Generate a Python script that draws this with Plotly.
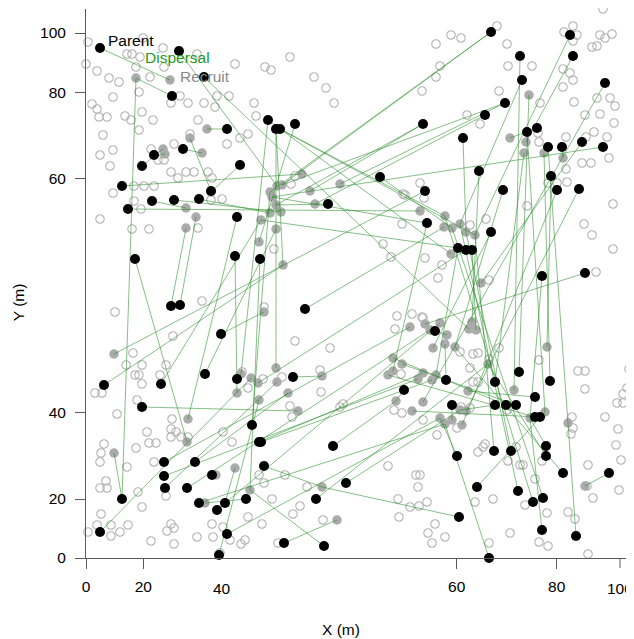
import plotly.graph_objects as go

# ---------------- data ----------------
# Parent trees (black)
parent_x = [2.8, 18.6, 23.6, 17.2, 36.4, 38.0, 38.8, 41.8, 28.2, 19.4,
            13.6, 11.2, 30.8, 7.2, 25.0, 13.2, 17.6, 22.6, 8.4, 30.2,
            81.0, 96.8, 86.8, 97.4, 87.2, 103.8, 83.8, 79.8, 67.4, 75.4,
            88.2, 90.2, 92.4, 95.2, 99.2, 103.4, 58.8, 78.6, 93.0, 67.8,
            83.4, 94.2, 98.6, 48.4, 9.8, 29.8, 34.8, 17.0, 18.8, 43.8,
            27.0, 23.8, 30.2, 41.4, 3.6, 15.0, 11.2, 68.2, 81.0, 74.4,
            76.0, 77.2, 91.2, 99.8, 69.8, 72.0, 63.6, 86.6, 81.8, 92.8,
            89.8, 73.2, 81.8, 84.0, 86.0, 89.8, 90.8, 33.2, 34.6, 35.0,
            35.6, 15.6, 15.6, 15.8, 21.8, 20.2, 25.2, 32.0, 22.6, 27.8,
            26.2, 7.2, 2.8, 28.2, 26.6, 39.6, 46.0, 49.4, 52.0, 47.6,
            74.2, 81.6, 85.0, 92.0, 92.0, 95.4, 78.2, 86.4, 89.4, 91.4,
            74.6, 91.2, 98.0, 104.6, 80.6]
parent_y = [102.0, 101.4, 96.2, 92.4, 87.6, 85.8, 85.8, 86.8, 85.8, 81.8,
            80.6, 78.4, 78.6, 74.4, 73.4, 71.4, 71.6, 71.8, 69.8, 68.2,
            105.2, 104.6, 100.4, 100.4, 95.6, 95.0, 91.0, 88.6, 86.8, 84.0,
            85.2, 86.0, 82.2, 82.2, 83.2, 82.2, 76.2, 77.4, 76.4, 73.4,
            73.6, 73.6, 73.8, 70.8, 59.8, 60.4, 59.8, 50.4, 50.6, 49.8,
            44.8, 36.8, 35.8, 36.2, 34.6, 34.8, 30.2, 67.0, 65.2, 62.0,
            61.6, 61.6, 56.4, 57.0, 45.4, 35.6, 33.6, 37.2, 35.2, 35.4,
            32.2, 30.6, 30.6, 30.6, 30.6, 28.2, 28.2, 26.6, 23.2, 23.2,
            18.4, 19.2, 16.4, 14.0, 19.2, 14.0, 16.6, 11.8, 11.0, 11.0,
            9.6, 11.8, 5.2, 4.8, 0.6, 3.0, 11.8, 22.4, 15.0, 2.4,
            20.4, 21.4, 21.4, 22.4, 20.4, 17.0, 14.2, 13.4, 11.2, 12.0,
            8.2, 5.6, 4.4, 17.0, 0.0]

# Recruits (grey filled)
recruit_x = [16.8, 10.0, 24.2, 20.8, 15.4, 15.8, 23.2, 20.0, 22.0, 20.0,
             88.6, 84.8, 88.0, 87.6, 91.6, 95.4, 50.8, 44.8, 45.8, 43.2,
             66.8, 71.8, 71.6, 73.2, 74.8, 76.0, 77.8, 73.0, 79.0, 36.8,
             37.2, 38.2, 39.2, 38.0, 35.0, 36.8, 38.0, 34.6, 39.4, 35.6,
             5.6, 38.0, 31.0, 33.0, 34.4, 38.2, 30.2, 40.4, 34.6, 42.4,
             20.4, 20.2, 5.6, 29.8, 32.8, 23.8, 26.0, 50.2, 47.2, 47.2,
             61.4, 63.2, 61.4, 60.4, 62.0, 65.2, 64.8, 67.8, 70.8, 77.2,
             72.2, 69.4, 73.8, 80.4, 67.4, 70.0, 85.6, 67.4, 70.8, 73.2,
             74.8, 76.0, 92.2, 91.8, 96.4, 88.8, 99.8, 78.0, 76.6, 71.8,
             68.8, 39.0, 71.8, 75.2, 66.4, 69.2, 76.4, 25.0]
recruit_y = [95.6, 96.0, 85.8, 84.0, 81.8, 80.8, 81.0, 70.0, 68.2, 66.0,
             92.6, 84.0, 83.2, 81.0, 81.0, 80.0, 74.8, 73.4, 70.8, 76.8,
             69.4, 68.4, 66.2, 66.0, 66.8, 65.2, 64.6, 60.8, 55.0, 73.2,
             72.2, 74.4, 74.6, 70.6, 67.6, 69.0, 65.8, 63.2, 58.6, 49.2,
             40.8, 38.0, 36.8, 36.0, 35.0, 35.2, 33.0, 33.0, 31.6, 29.4,
             27.8, 23.2, 21.0, 18.0, 13.6, 11.0, 16.6, 7.6, 14.2, 36.4,
             40.0, 38.8, 37.4, 36.6, 31.4, 29.4, 46.2, 46.8, 47.0, 47.2,
             44.6, 42.0, 42.2, 38.8, 37.0, 36.6, 33.6, 31.2, 28.0, 27.6,
             29.6, 29.4, 42.2, 29.2, 27.0, 28.0, 14.4, 45.6, 45.8, 42.8,
             45.6, 69.2, 26.8, 26.6, 35.8, 35.6, 33.4, 73.2]

# Dispersal links: (parent number, recruit number), 1-based
dispersal_links = [
    (1, 1), (2, 32), (3, 89), (4, 2), (5, 28), (6, 42), (7, 22), (8, 38), (9, 3), (10, 7),
    (11, 6), (12, 5), (13, 98), (14, 20), (15, 4), (16, 8), (17, 92), (18, 36), (19, 21), (20, 51),
    (21, 33), (22, 27), (23, 77), (24, 13), (25, 25), (26, 78), (27, 17), (28, 19), (29, 18), (30, 26),
    (31, 84), (32, 12), (33, 85), (34, 16), (35, 29), (36, 31), (37, 24), (38, 70), (39, 83), (40, 41),
    (41, 73), (42, 94), (43, 82), (44, 34), (45, 52), (46, 47), (47, 55), (48, 10), (49, 9), (50, 23),
    (51, 40), (52, 37), (53, 43), (54, 60), (55, 39), (56, 35), (57, 50), (58, 63), (59, 72), (60, 76),
    (61, 45), (62, 88), (63, 86), (64, 68), (65, 71), (66, 90), (67, 65), (68, 11), (69, 14), (70, 15),
    (71, 97), (72, 80), (73, 81), (74, 61), (75, 62), (76, 64), (77, 66), (78, 30), (79, 75), (80, 96),
    (81, 59), (82, 67), (83, 95), (84, 46), (85, 48), (86, 91), (87, 57), (88, 56), (89, 93), (90, 54),
    (91, 69), (92, 53), (93, 44), (94, 79), (95, 49), (96, 58), (97, 74), (98, 65), (99, 81), (100, 55),
    (101, 79), (102, 27), (103, 26), (104, 86), (105, 74), (106, 73), (107, 84), (108, 25), (109, 22), (110, 24),
    (111, 59), (112, 86), (113, 85), (114, 87), (115, 93),
    (92, 2), (21, 30), (27, 33), (29, 34), (60, 35), (58, 31), (6, 39), (7, 27), (5, 43),
]

# Other trees (open grey circles)
other_trees = [
    (0.4, 103.2), (0.0, 98.8), (2.2, 97.4), (4.6, 96.0), (6.6, 95.2), (5.4, 92.2), (1.2, 90.8),
    (2.2, 89.8), (2.6, 88.2), (4.2, 88.2), (3.4, 84.6), (5.4, 81.6), (2.8, 80.6), (4.8, 78.4),
    (5.4, 73.0), (2.8, 67.8), (11.4, 104.0), (15.4, 102.0), (8.2, 100.8), (9.2, 100.8), (10.8, 100.2),
    (10.0, 98.2), (12.8, 96.2), (15.6, 98.2), (10.6, 93.2), (17.0, 91.0), (18.8, 92.4), (20.4, 91.0),
    (23.6, 91.0), (25.8, 90.2), (26.2, 92.4), (28.6, 92.4), (29.8, 98.8), (22.2, 100.8), (11.2, 89.2),
    (7.8, 88.4), (9.0, 87.6), (13.4, 87.6), (10.6, 85.6), (22.4, 87.6), (20.8, 84.8), (17.6, 82.8),
    (13.0, 81.8), (14.4, 79.6), (15.6, 79.6), (17.0, 77.2), (20.0, 77.2), (21.6, 77.2), (18.4, 76.0),
    (24.4, 77.2), (25.2, 76.0), (28.2, 82.8), (30.8, 84.0), (32.4, 84.8), (33.6, 91.0), (34.0, 88.4),
    (35.8, 98.2), (37.0, 97.6), (40.8, 100.2), (45.6, 96.2), (9.6, 74.4), (11.6, 74.4), (13.6, 74.4),
    (9.6, 71.4), (11.0, 69.8), (27.2, 71.8), (25.0, 71.6),
    (82.2, 106.4), (70.0, 102.8), (73.0, 104.6), (75.0, 104.0), (84.2, 102.8), (48.0, 94.0),
    (49.6, 91.0), (67.2, 93.4), (70.8, 98.4), (70.0, 96.2), (84.4, 98.4), (89.2, 98.4), (82.6, 93.4),
    (90.8, 91.0), (76.2, 88.6), (78.8, 86.8), (97.4, 106.4), (95.6, 105.2), (98.2, 104.6), (97.4, 103.4),
    (103.4, 109.8), (102.8, 104.6), (103.8, 104.0), (105.2, 104.8), (101.2, 102.2), (102.2, 102.4),
    (95.4, 97.8), (96.8, 97.0), (97.4, 95.6), (95.4, 94.2), (97.6, 91.2), (102.2, 92.0), (104.8, 92.0),
    (105.8, 90.4), (99.8, 88.6), (102.8, 88.8), (105.6, 87.0), (101.6, 85.2), (100.0, 84.2), (96.0, 84.2),
    (104.2, 84.2), (90.6, 83.2), (90.4, 85.0), (104.6, 80.0), (99.2, 79.0), (101.0, 79.0), (96.0, 77.8),
    (94.2, 75.0), (96.2, 75.2), (92.4, 75.0), (66.8, 75.0), (63.8, 72.6), (105.4, 70.8), (88.2, 70.4),
    (9.2, 65.8), (12.6, 65.8), (22.4, 66.0), (5.8, 49.2), (23.2, 51.4), (35.6, 50.2), (17.4, 44.4),
    (41.8, 43.4), (9.4, 41.0), (8.0, 38.6), (11.2, 38.6), (16.0, 38.6), (9.8, 36.6), (10.6, 36.6),
    (14.8, 36.6), (11.2, 34.8), (1.8, 33.0), (3.2, 33.0), (10.2, 31.6), (6.2, 28.8), (37.6, 61.8),
    (31.2, 37.2), (17.2, 27.8), (40.8, 30.4), (41.2, 28.2),
    (99.6, 66.8), (101.2, 64.6), (105.4, 61.8), (102.0, 57.2), (63.2, 66.8), (59.4, 62.8), (61.0, 60.2),
    (67.8, 60.0), (70.4, 56.0), (71.2, 58.6), (80.6, 55.6), (62.2, 48.4), (65.2, 48.8), (67.2, 48.2),
    (61.8, 45.8), (48.8, 42.0), (46.8, 37.6), (47.0, 33.2), (82.6, 42.0), (74.8, 41.2), (77.4, 40.8),
    (78.4, 41.0), (80.6, 39.8), (90.6, 39.6), (76.8, 38.0), (77.4, 35.2), (78.4, 35.2), (98.4, 37.4),
    (99.8, 37.4), (108.6, 37.8), (99.8, 33.8), (108.2, 34.0), (107.4, 32.8), (106.2, 31.0), (107.4, 31.0),
    (61.6, 29.6), (63.2, 29.0), (50.8, 30.2), (51.4, 30.8), (97.2, 28.2), (103.8, 28.2), (75.0, 30.2),
    (76.8, 30.0), (63.0, 36.8),
    (0.4, 5.2), (2.2, 6.6), (5.0, 6.6), (5.0, 4.4), (6.8, 5.2), (8.4, 6.6), (3.0, 8.8), (11.2, 10.2),
    (10.4, 13.2), (2.8, 14.0), (4.2, 14.0), (4.0, 15.4), (2.8, 19.2), (3.0, 21.0), (3.6, 22.8),
    (10.0, 22.0), (8.2, 18.2), (13.6, 19.2), (12.6, 23.0), (14.0, 23.0), (12.2, 25.2), (17.0, 25.8),
    (18.0, 25.2), (17.0, 24.2), (19.0, 24.2), (20.4, 24.2), (16.0, 12.4), (16.2, 5.4), (17.0, 6.8),
    (17.6, 6.0), (17.6, 2.8), (13.0, 3.4), (22.2, 4.2), (25.2, 6.8), (25.4, 4.2), (27.4, 6.2),
    (28.8, 3.6), (31.0, 2.8), (31.8, 3.6), (32.4, 8.2), (35.2, 6.8), (37.2, 11.8), (34.6, 16.6),
    (35.6, 15.0), (39.8, 16.6), (41.4, 8.8), (42.8, 10.4), (44.2, 14.2), (38.4, 3.0), (29.2, 23.2),
    (27.4, 25.2), (26.8, 1.0),
    (66.0, 16.6), (66.8, 16.6), (66.4, 14.2), (62.4, 11.8), (64.8, 10.2), (66.6, 10.4), (68.2, 11.2),
    (62.6, 8.2), (60.4, 18.4), (69.8, 6.8), (68.4, 5.0), (71.8, 4.2), (69.2, 3.0), (47.4, 7.6),
    (79.4, 22.2), (78.4, 21.2), (86.0, 22.2), (84.4, 19.4), (87.4, 18.6), (89.8, 15.8), (91.2, 19.4),
    (87.8, 10.6), (92.2, 9.0), (96.4, 9.2), (97.8, 7.8), (81.4, 11.8), (77.8, 11.2), (80.6, 3.0),
    (84.8, 5.0), (90.6, 3.2), (92.4, 2.4), (100.4, 0.8), (100.4, 18.6), (100.2, 14.4), (101.4, 12.0),
    (106.6, 13.6), (109.2, 12.2), (107.0, 19.6), (106.0, 22.6), (106.4, 25.8), (97.4, 26.0),
    (97.0, 24.8), (86.8, 18.6),
    (41.8, 76.4), (41.0, 74.8), (63.4, 72.8), (67.6, 72.0), (80.0, 67.8), (76.8, 66.6), (32.4, 34.0),
    (35.4, 35.8), (39.2, 36.2), (67.4, 48.0), (67.4, 27.6), (74.2, 26.0), (70.2, 24.6), (84.2, 29.6),
    (79.8, 22.8),
]

# Axis ticks: labels and their positions on the (linear) axes
x_tick_text = ["0", "20", "40", "60", "80", "100"]
x_tick_vals = [0.0, 11.46, 27.14, 74.14, 94.14, 106.8]
y_tick_text = ["0", "20", "40", "60", "80", "100"]
y_tick_vals = [0.0, 11.8, 29.06, 75.94, 93.14, 105.0]

# ---------------- figure ----------------
FONT = "Liberation Sans, Arial, Helvetica, sans-serif"
AXIS_GRAY = "#5a5a5a"
FS = 15.5

other_x = [p[0] for p in other_trees]
other_y = [p[1] for p in other_trees]

line_x, line_y = [], []
for pi, ri in dispersal_links:
    line_x += [parent_x[pi - 1], recruit_x[ri - 1], None]
    line_y += [parent_y[pi - 1], recruit_y[ri - 1], None]

fig = go.Figure()
fig.add_trace(go.Scatter(
    x=other_x, y=other_y, mode="markers", cliponaxis=False, hoverinfo="skip",
    marker=dict(symbol="circle-open", size=8.5, color="#b4b4b4", line=dict(width=1.1)),
))
fig.add_trace(go.Scatter(
    x=recruit_x, y=recruit_y, mode="markers", cliponaxis=False, hoverinfo="skip",
    marker=dict(symbol="circle", size=9.5, color="#ababab", line=dict(width=0)),
))
fig.add_trace(go.Scatter(
    x=line_x, y=line_y, mode="lines", hoverinfo="skip",
    line=dict(color="rgba(34,139,34,0.55)", width=1),
))
fig.add_trace(go.Scatter(
    x=parent_x, y=parent_y, mode="markers", cliponaxis=False, hoverinfo="skip",
    marker=dict(symbol="circle", size=10, color="black", line=dict(width=0)),
))

# tick marks only where the reference draws them ("40" has a label but no mark)
x_tv = [v for v, t in zip(x_tick_vals, x_tick_text) if t not in ("40", "100")]
x_tt = [t for t in x_tick_text if t not in ("40", "100")]

# the page body has an 8px margin, so the figure is 8px smaller in each direction
fig.update_layout(
    width=626, height=631,
    margin=dict(l=78, r=0, t=1, b=81),
    paper_bgcolor="white", plot_bgcolor="white",
    showlegend=False,
    font=dict(family=FONT, size=FS, color="black"),
)
fig.update_xaxes(
    range=[0, 109.6], tickmode="array", tickvals=x_tv, ticktext=x_tt,
    ticks="outside", ticklen=10, tickwidth=1, tickcolor=AXIS_GRAY,
    showline=True, linecolor=AXIS_GRAY, linewidth=1,
    showgrid=False, zeroline=False, ticklabelstandoff=4,
    ticklabeloverflow="allow",
    tickfont=dict(family=FONT, size=FS, color="black"),
)
fig.update_yaxes(
    range=[0, 109.8], tickmode="array", tickvals=y_tick_vals, ticktext=y_tick_text,
    ticks="outside", ticklen=10, tickwidth=1, tickcolor=AXIS_GRAY,
    showline=True, linecolor=AXIS_GRAY, linewidth=1,
    showgrid=False, zeroline=False, ticklabelstandoff=6,
    ticklabeloverflow="allow",
    tickfont=dict(family=FONT, size=FS, color="black"),
)

shapes = [dict(type="line", xref="x", yref="paper", x0=x_tick_vals[5], x1=x_tick_vals[5],
               y0=0, y1=-10 / 549, line=dict(color=AXIS_GRAY, width=1))]

ann = []
# "40" and "100" x labels as annotations
for i in (2, 5):
    ann.append(dict(x=x_tick_vals[i], y=0, xref="x", yref="paper", yshift=-30,
                    text=x_tick_text[i], showarrow=False, xanchor="center", yanchor="middle",
                    font=dict(family=FONT, size=FS, color="black")))
# axis titles
ann.append(dict(x=0.465, y=0, xref="paper", yref="paper", yshift=-71,
                text="X (m)", showarrow=False, xanchor="center", yanchor="middle",
                font=dict(family=FONT, size=FS, color="black")))
ann.append(dict(x=0, y=0.465, xref="paper", yref="paper", xshift=-67.5,
                text="Y (m)", textangle=-90, showarrow=False, xanchor="center", yanchor="middle",
                font=dict(family=FONT, size=FS, color="black")))
# key labels
key_labels = [("Parent", 4.0, 103.6, "black"),
              ("Dispersal", 11.3, 100.1, "#229a22"),
              ("Recruit", 18.4, 96.4, "#8a8a8a")]
for txt, kx, ky, col in key_labels:
    ann.append(dict(x=kx, y=ky, xref="x", yref="y", text=txt, showarrow=False,
                    xanchor="left", yanchor="middle",
                    font=dict(family=FONT, size=FS, color=col)))
fig.update_layout(annotations=ann, shapes=shapes)

fig.write_html("out.html")
